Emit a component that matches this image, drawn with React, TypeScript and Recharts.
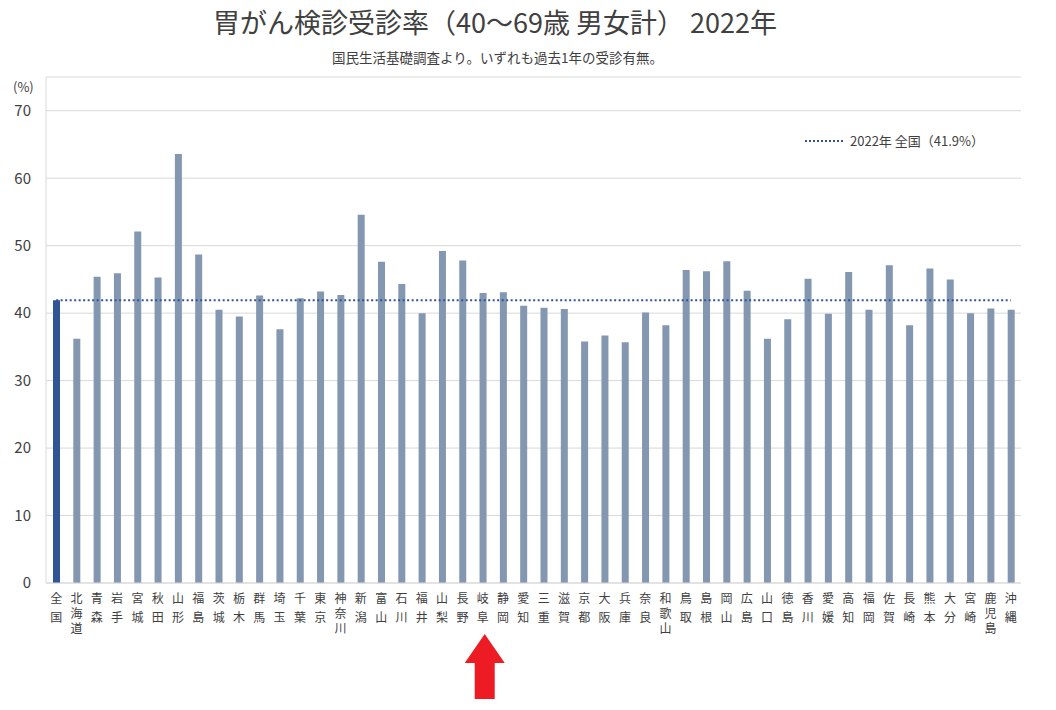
import { BarChart, Bar, Cell, XAxis, YAxis, CartesianGrid, ReferenceLine } from "recharts"

const prefectures = [
  "全国", "北海道", "青森", "岩手", "宮城", "秋田", "山形", "福島", "茨城", "栃木",
  "群馬", "埼玉", "千葉", "東京", "神奈川", "新潟", "富山", "石川", "福井", "山梨",
  "長野", "岐阜", "静岡", "愛知", "三重", "滋賀", "京都", "大阪", "兵庫", "奈良",
  "和歌山", "鳥取", "島根", "岡山", "広島", "山口", "徳島", "香川", "愛媛", "高知",
  "福岡", "佐賀", "長崎", "熊本", "大分", "宮崎", "鹿児島", "沖縄",
]

// 受診率 (%)
const rates = [
  41.9, 36.2, 45.4, 45.9, 52.1, 45.3, 63.6, 48.7, 40.5, 39.5,
  42.6, 37.6, 42.2, 43.2, 42.7, 54.6, 47.6, 44.3, 40.0, 49.2,
  47.8, 43.0, 43.1, 41.1, 40.8, 40.6, 35.8, 36.7, 35.7, 40.1,
  38.2, 46.4, 46.2, 47.7, 43.3, 36.2, 39.1, 45.1, 39.9, 46.1,
  40.5, 47.1, 38.2, 46.6, 45.0, 40.0, 40.7, 40.5,
]

const yTicks = [0, 10, 20, 30, 40, 50, 60, 70]
const nationalRate = 41.9
const highlighted = "岐阜"

const data = prefectures.map((name, i) => ({ name, rate: rates[i] }))

const textColor = "#404040"
const gridColor = "#d9d9d9"

// vertical (one char per line) prefecture labels, plus the red arrow under 岐阜
function PrefTick(props: any) {
  const { x, y, payload } = props
  const chars = Array.from(payload.value as string)
  const step = chars.length > 2 ? 15 : 18.5
  return (
    <g>
      {chars.map((c, i) => (
        <text key={i} x={x} y={y + 20 + i * step} textAnchor="middle" fontSize={12} fill={textColor}>
          {c}
        </text>
      ))}
      {payload.value === highlighted && (
        <polygon
          points={`${x + 2},${y + 51} ${x + 22},${y + 80} ${x + 12},${y + 80} ${x + 12},${y + 116} ${x - 8},${y + 116} ${x - 8},${y + 80} ${x - 18},${y + 80}`}
          fill="#ed1c24"
        />
      )}
    </g>
  )
}

export default function App() {
  return (
    <div
      style={{
        position: "relative",
        width: 1056,
        height: 710,
        margin: -8,
        background: "#fff",
        fontFamily: "'Noto Sans CJK JP', 'Noto Sans', sans-serif",
      }}
    >
      <div style={{ position: "absolute", top: 2, left: 0, width: 990, textAlign: "center", fontSize: 27, color: textColor }}>
        胃がん検診受診率（40～69歳 男女計） 2022年
      </div>
      <div style={{ position: "absolute", top: 47, left: 0, width: 995, textAlign: "center", fontSize: 13.5, color: textColor }}>
        国民生活基礎調査より。いずれも過去1年の受診有無。
      </div>
      <div style={{ position: "absolute", top: 77, left: 13, fontSize: 13, color: textColor }}>(%)</div>
      <div
        style={{
          position: "absolute",
          top: 131,
          left: 805,
          display: "flex",
          alignItems: "center",
          fontSize: 13,
          color: textColor,
          zIndex: 1,
        }}
      >
        <svg width={40} height={6} style={{ marginRight: 5 }}>
          <line x1={0} y1={3} x2={38} y2={3} stroke="#2f5597" strokeWidth={2} strokeDasharray="2 2" />
        </svg>
        <span>2022年 全国（41.9%）</span>
      </div>

      <BarChart width={1056} height={710} data={data} margin={{ top: 77, right: 35, left: 6, bottom: 37 }} barSize={7}>
        <CartesianGrid vertical={false} stroke={gridColor} />
        <XAxis
          dataKey="name"
          interval={0}
          height={90}
          tickLine={false}
          tickSize={0}
          tickMargin={0}
          axisLine={{ stroke: gridColor }}
          tick={<PrefTick />}
        />
        <XAxis xAxisId="top" dataKey="name" orientation="top" height={0} tick={false} tickLine={false} axisLine={{ stroke: gridColor }} />
        <YAxis
          domain={[0, 75]}
          ticks={yTicks}
          width={40}
          tickLine={false}
          tickSize={0}
          tickMargin={15}
          axisLine={{ stroke: gridColor }}
          tick={{ fontSize: 15, fill: textColor }}
        />
        <YAxis yAxisId="right" orientation="right" width={0} tick={false} tickLine={false} axisLine={{ stroke: gridColor }} />
        <ReferenceLine
          segment={[
            { x: prefectures[0], y: nationalRate },
            { x: prefectures[prefectures.length - 1], y: nationalRate },
          ]}
          stroke="#2f5597"
          strokeWidth={2}
          strokeDasharray="2 2.5"
        />
        <Bar dataKey="rate" isAnimationActive={false}>
          {data.map((d, i) => (
            <Cell key={d.name} fill={i === 0 ? "#2f5597" : "#8497b0"} />
          ))}
        </Bar>
      </BarChart>
    </div>
  )
}
